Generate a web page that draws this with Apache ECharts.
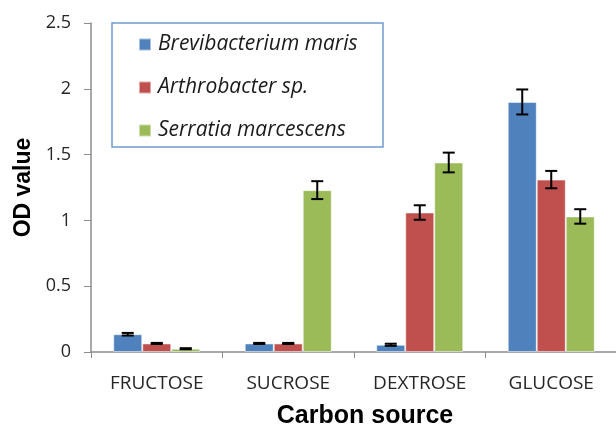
<!DOCTYPE html>
<html>
<head>
<meta charset="utf-8">
<style>
  html, body { margin: 0; padding: 0; background: #fff; }
  #chart { width: 616px; height: 428px; }
</style>
<script src="https://cdn.jsdelivr.net/npm/echarts@6/dist/echarts.min.js"></script>
</head>
<body>
<div id="chart"></div>
<script>
const categories = ['FRUCTOSE', 'SUCROSE', 'DEXTROSE', 'GLUCOSE']
const seriesNames = ['Brevibacterium maris', 'Arthrobacter sp.', 'Serratia marcescens']
const breviValues = [0.135, 0.065, 0.055, 1.90]
const arthroValues = [0.065, 0.065, 1.06, 1.31]
const serratiaValues = [0.025, 1.23, 1.44, 1.03]
const breviErrors = [0.01, 0.004, 0.008, 0.095]
const arthroErrors = [0.004, 0.004, 0.055, 0.066]
const serratiaErrors = [0.004, 0.068, 0.075, 0.055]
const colors = ['#4f81bd', '#c0504d', '#9bbb59']

const barWidth = 29
const values = [breviValues, arthroValues, serratiaValues]
const errors = [breviErrors, arthroErrors, serratiaErrors]

const chart = echarts.init(document.getElementById('chart'))

const barSeries = values.map((v, i) => ({
  name: seriesNames[i],
  type: 'bar',
  data: v,
  barWidth,
  barGap: 0,
  itemStyle: { color: colors[i], borderColor: 'rgba(255,255,255,0.5)', borderWidth: 1 }
}))

// error bars drawn via custom series, shifted to match each bar in the group
const errSeries = errors.map((e, i) => ({
  type: 'custom',
  name: seriesNames[i] + ' err',
  silent: true,
  z: 10,
  data: e.map((d, j) => [j, values[i][j] - d, values[i][j] + d]),
  renderItem(params, api) {
    const off = (i - 1) * barWidth
    const lo = api.coord([api.value(0), api.value(1)])
    const hi = api.coord([api.value(0), api.value(2)])
    const x = lo[0] + off
    const cap = 6
    const style = { stroke: '#000', lineWidth: 2 }
    return {
      type: 'group',
      children: [
        { type: 'line', shape: { x1: x, y1: lo[1], x2: x, y2: hi[1] }, style },
        { type: 'line', shape: { x1: x - cap, y1: lo[1], x2: x + cap, y2: lo[1] }, style },
        { type: 'line', shape: { x1: x - cap, y1: hi[1], x2: x + cap, y2: hi[1] }, style }
      ]
    }
  }
}))

const option = {
  animation: false,
  grid: { left: 91, right: -1, top: 23, bottom: 76, outerBoundsMode: 'none' },
  // legend frame
  graphic: [{
    type: 'rect',
    shape: { x: 112, y: 23, width: 271, height: 124 },
    style: { fill: '#fff', stroke: '#6f9bd1', lineWidth: 1.5 },
    z: 5
  }],
  legend: {
    data: seriesNames,
    orient: 'vertical',
    left: 138,
    top: 34,
    padding: 0,
    itemGap: 22,
    itemWidth: 12,
    itemHeight: 12,
    icon: 'rect',
    z: 10,
    textStyle: {
      fontFamily: 'Open Sans',
      fontStyle: 'italic',
      fontSize: 21,
      lineHeight: 20,
      color: '#1a1a1a',
      padding: [0, 0, 0, 2]
    }
  },
  xAxis: {
    type: 'category',
    data: categories,
    name: 'Carbon source',
    nameLocation: 'middle',
    nameGap: 52,
    nameTextStyle: {
      fontFamily: 'Liberation Sans',
      fontWeight: 'bold',
      fontSize: 25,
      color: '#000',
      padding: [0, 0, 0, 22]
    },
    axisLine: { lineStyle: { color: '#8c8c8c', width: 1.5 } },
    axisTick: { show: true, length: 6, lineStyle: { color: '#8c8c8c' } },
    axisLabel: {
      margin: 22,
      fontFamily: 'Open Sans',
      fontSize: 19,
      color: '#262626'
    }
  },
  yAxis: {
    type: 'value',
    min: 0,
    max: 2.5,
    interval: 0.5,
    name: 'OD value',
    nameLocation: 'middle',
    nameGap: 56,
    nameTextStyle: {
      fontFamily: 'Liberation Sans',
      fontWeight: 'bold',
      fontSize: 23,
      color: '#000'
    },
    splitLine: { show: false },
    axisLine: { show: true, lineStyle: { color: '#8c8c8c', width: 1.5 } },
    axisTick: { show: true, length: 7, lineStyle: { color: '#8c8c8c' } },
    axisLabel: {
      margin: 20,
      fontFamily: 'Open Sans',
      fontSize: 18,
      color: '#262626'
    }
  },
  series: [...barSeries, ...errSeries]
}

chart.setOption(option)
</script>
</body>
</html>
